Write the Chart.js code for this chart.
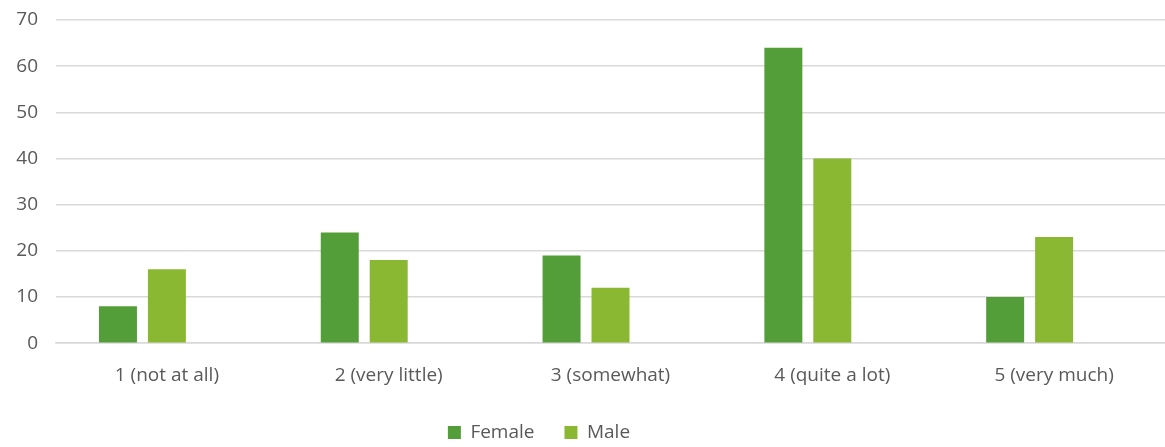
<!DOCTYPE html>
<html>
<head>
<meta charset="utf-8">
<script src="https://cdn.jsdelivr.net/npm/chart.js@4"></script>
<style>
  html, body { margin: 0; padding: 0; background: #fff; }
  #frame { width: 1165px; height: 447px; overflow: hidden; }
  #wrap { width: 1165px; height: 452px; }
</style>
</head>
<body>
<div id="frame"><div id="wrap"><canvas id="chart"></canvas></div></div>
<script>
const categories = ["1 (not at all)", "2 (very little)", "3 (somewhat)", "4 (quite a lot)", "5 (very much)"];
const female = [8, 24, 19, 64, 10];
const male = [16, 18, 12, 40, 23];
const spacer = [null, null, null, null, null]; // empty third series, as in the source

const colors = {
  female: "#549E39",
  male: "#8AB833",
};

const font = { family: "'Open Sans', 'Liberation Sans', sans-serif", size: 19 };

new Chart(document.getElementById("chart"), {
  type: "bar",
  data: {
    labels: categories,
    datasets: [
      { label: "Female", data: female, backgroundColor: colors.female },
      { label: "Male", data: male, backgroundColor: colors.male },
      // blank legend entry keeps the legend off-centre like the original
      { label: "       ", data: spacer, backgroundColor: "rgba(0,0,0,0)", borderWidth: 0 },
    ],
  },
  options: {
    responsive: true,
    maintainAspectRatio: false,
    animation: false,
    categoryPercentage: 0.662,
    barPercentage: 0.776,
    layout: { padding: 0 },
    plugins: {
      tooltip: { enabled: false },
      legend: {
        position: "bottom",
        labels: {
          boxWidth: 13,
          boxHeight: 13,
          padding: 30,
          color: "#595959",
          font: font,
        },
      },
    },
    scales: {
      x: {
        grid: { display: false },
        border: { color: "#D9D9D9", width: 1.5 },
        ticks: { color: "#595959", font: font, padding: 13 },
        afterFit: (scale) => { scale.height -= 7; },
      },
      y: {
        min: 0,
        max: 70,
        afterFit: (scale) => {
          scale.width = 56;
          scale.paddingTop = 20;
        },
        ticks: { stepSize: 10, color: "#595959", font: font, padding: 18 },
        grid: { color: "#D9D9D9", lineWidth: 1.5, drawTicks: false },
        border: { display: false },
      },
    },
  },
});
</script>
</body>
</html>
